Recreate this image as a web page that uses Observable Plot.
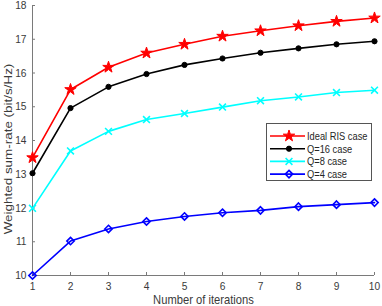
<!DOCTYPE html>
<html>
<head>
<meta charset="utf-8">
<script src="https://cdn.jsdelivr.net/npm/d3@7"></script>
<script src="https://cdn.jsdelivr.net/npm/@observablehq/plot@0.6"></script>
<style>
  html, body { margin: 0; padding: 0; background: #fff; }
  #wrap { position: relative; width: 382px; height: 306px; overflow: hidden; font-family: "Liberation Sans", Arial, sans-serif; }
  #legend { position: absolute; left: 266px; top: 123px; }
</style>
</head>
<body>
<div id="wrap"></div>
<script>
const iterations = [1, 2, 3, 4, 5, 6, 7, 8, 9, 10];
const idealRIS = [13.49, 15.51, 16.17, 16.59, 16.85, 17.09, 17.25, 17.40, 17.53, 17.63];
const q16 = [13.03, 14.96, 15.59, 15.97, 16.24, 16.43, 16.60, 16.73, 16.85, 16.94];
const q8 = [11.99, 13.69, 14.27, 14.62, 14.80, 14.99, 15.18, 15.29, 15.42, 15.49];
const q4 = [10.0, 11.02, 11.38, 11.60, 11.75, 11.86, 11.93, 12.04, 12.10, 12.16];
const seriesNames = ["Ideal RIS case", "Q=16 case", "Q=8 case", "Q=4 case"];
const xTicks = [1, 2, 3, 4, 5, 6, 7, 8, 9, 10];
const yTicks = [10, 11, 12, 13, 14, 15, 16, 17, 18];
const xLabel = "Number of iterations";
const yLabel = "Weighted sum-rate (bit/s/Hz)";

const styles = [
  {color: "#ff0000", symbol: "star", r: 3.6, fill: "#ff0000", sw: 1},
  {color: "#000000", symbol: "circle", r: 2.6, fill: "#000000", sw: 1},
  {color: "#00ffff", symbol: "times", r: 3.2, fill: "none", sw: 1.6},
  {color: "#0000ff", symbol: "diamond2", r: 3.3, fill: "none", sw: 1.6}
];
const allSeries = [idealRIS, q16, q8, q4];
const data = allSeries.flatMap((vals, si) => vals.map((v, i) => ({x: iterations[i], y: v, s: si})));

const lineColor = "#7a7a7a";
const textColor = "#3a3a3a";
const marks = [];
allSeries.forEach((vals, si) => {
  const st = styles[si];
  const d = data.filter(p => p.s === si);
  marks.push(Plot.line(d, {x: "x", y: "y", stroke: st.color, strokeWidth: 1.6}));
});
allSeries.forEach((vals, si) => {
  const st = styles[si];
  const d = data.filter(p => p.s === si);
  marks.push(Plot.dot(d, {x: "x", y: "y", symbol: () => st.symbol, r: st.r, stroke: st.color, fill: st.fill, strokeWidth: st.sw}));
});

const chart = Plot.plot({
  width: 382,
  height: 306,
  marginLeft: 32,
  marginRight: 8,
  marginTop: 5,
  marginBottom: 31,
  style: {fontFamily: "Liberation Sans, Arial, sans-serif", fontSize: "10.2px", color: textColor, background: "#fff"},
  x: {domain: [1, 10]},
  y: {domain: [10, 18]},
  symbol: {type: "identity"},
  marks: [
    Plot.axisX({ticks: xTicks, tickSize: -3, tickPadding: 9.5, label: null, stroke: lineColor, fill: textColor, className: "xtl"}),
    Plot.axisY({ticks: yTicks, tickSize: -3, tickPadding: 9, label: null, stroke: lineColor, fill: textColor, className: "ytl"}),
    Plot.ruleY([10], {stroke: lineColor}),
    Plot.ruleX([1], {stroke: lineColor}),
    ...marks,
    Plot.text([xLabel], {frameAnchor: "bottom", text: d => d, dy: 19.5, lineAnchor: "top", textAnchor: "middle", fill: textColor, fontSize: 11.2, className: "xlab"}),
    Plot.text([yLabel], {frameAnchor: "left", text: d => d, rotate: -90, textAnchor: "middle", lineAnchor: "middle", dx: -24.5, dy: 8.5, fill: textColor, fontSize: 11.2, className: "ylab"})
  ]
});
document.getElementById("wrap").appendChild(chart);

// The reference figure is slightly stretched vertically: mimic it for the texts.
function stretch(el, kx, ky) {
  let t = el.getAttribute("transform");
  if (!t) {
    const x = el.getAttribute("x") || 0, y = el.getAttribute("y") || 0;
    t = `translate(${x},${y})`;
    el.removeAttribute("x");
  }
  el.setAttribute("transform", t + ` scale(${kx},${ky})`);
}
d3.select(chart).selectAll(".xtl text, .ytl text, .xlab text").each(function() { stretch(this, 1, 1.1); });
d3.select(chart).selectAll(".ylab text").each(function() { stretch(this, 1.2, 1); });

// Legend
const lw = 106, lh = 58;
const legend = d3.select("#wrap").append("svg")
  .attr("id", "legend").attr("width", lw).attr("height", lh);
legend.append("rect").attr("x", 0.5).attr("y", 0.5).attr("width", lw - 1).attr("height", lh - 1)
  .attr("fill", "#fff").attr("stroke", "#555").attr("stroke-width", 1);
const symMap = {star: d3.symbolStar, circle: d3.symbolCircle, times: d3.symbolTimes, diamond2: d3.symbolDiamond2};
seriesNames.forEach((name, i) => {
  const st = styles[i];
  const cy = 13 + i * 12.7;
  const g = legend.append("g");
  g.append("line").attr("x1", 4).attr("x2", 39).attr("y1", cy).attr("y2", cy)
    .attr("stroke", st.color).attr("stroke-width", 1.6);
  g.append("path").attr("d", d3.symbol(symMap[st.symbol], Math.PI * st.r * st.r)())
    .attr("transform", `translate(23,${cy})`)
    .attr("fill", st.fill).attr("stroke", st.color).attr("stroke-width", st.sw);
  g.append("text").attr("transform", `translate(41,${cy}) scale(1,1.2)`).attr("dy", "0.35em")
    .attr("font-size", 9.3).attr("fill", "#262626")
    .attr("font-family", "Liberation Sans, Arial, sans-serif").text(name);
});
</script>
</body>
</html>
